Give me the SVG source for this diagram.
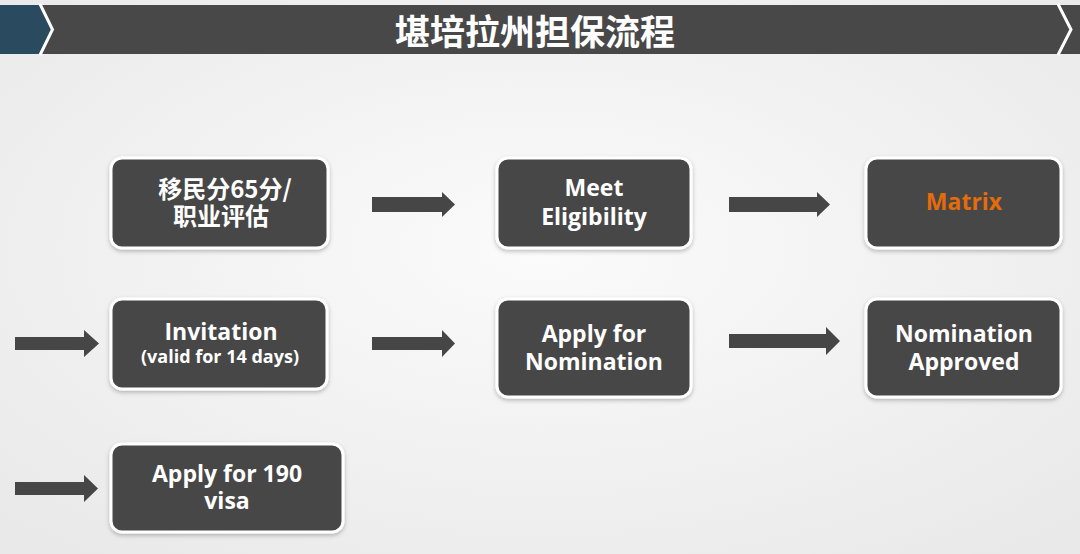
<svg xmlns="http://www.w3.org/2000/svg" width="1080" height="554" viewBox="0 0 1080 554">
<defs>
<radialGradient id="bg" cx="50%" cy="45%" r="70%">
<stop offset="0" stop-color="#fbfbfb"/>
<stop offset="1" stop-color="#e9e9e9"/>
</radialGradient>
<filter id="sh" x="-10%" y="-10%" width="120%" height="130%">
<feDropShadow dx="0" dy="2" stdDeviation="2" flood-color="#000" flood-opacity="0.25"/>
</filter>
</defs>
<style>
.box{fill:#464646;stroke:#ffffff;stroke-width:3;filter:url(#sh)}
.t{font-family:"Open Sans","Noto Sans CJK SC",sans-serif;font-weight:bold;fill:#ffffff;text-anchor:middle}
.cn{font-family:"Noto Sans CJK SC","Open Sans",sans-serif;font-weight:bold;fill:#ffffff;text-anchor:middle}
.arr{fill:#464646}
</style>
<rect width="1080" height="554" fill="url(#bg)"/>
<g id="header">
<rect x="0" y="5" width="1080" height="49" fill="#484848"/>
<polygon points="0,5 40,5 52,29.5 40,54 0,54" fill="#2a4b5f"/>
<polyline points="40,4 52.5,29.5 40,55" fill="none" stroke="#ffffff" stroke-width="3"/>
<polyline points="1058,4 1071,29.5 1058,55" fill="none" stroke="#ffffff" stroke-width="3"/>
<text x="535" y="45" class="cn" font-size="35">堪培拉州担保流程</text>
</g>
<g id="connectors">
<polygon class="arr" points="372,197 442,197 442,192 455,204.5 442,217 442,212 372,212"/>
<polygon class="arr" points="729,197 817,197 817,192 830,204.5 817,217 817,212 729,212"/>
<polygon class="arr" points="15,337 84,337 84,330 99,343.5 84,357 84,350 15,350"/>
<polygon class="arr" points="372,337 442,337 442,330 455,343.5 442,357 442,350 372,350"/>
<polygon class="arr" points="729,334 826,334 826,327 840,341 826,355 826,348 729,348"/>
<polygon class="arr" points="15,482 84,482 84,475 98,488.5 84,502 84,495 15,495"/>
</g>
<g id="node-points">
<rect class="box" x="111" y="158" width="217" height="90" rx="11"/>
<text class="cn" x="225" y="198" font-size="24">移民分65分/</text>
<text class="cn" x="221" y="225" font-size="24">职业评估</text>
</g>
<g id="node-eligibility">
<rect class="box" x="497" y="158" width="194" height="90" rx="11"/>
<text class="t" x="594" y="196" font-size="23">Meet</text>
<text class="t" x="594" y="225" font-size="23">Eligibility</text>
</g>
<g id="node-matrix">
<rect class="box" x="866" y="158" width="195" height="90" rx="11"/>
<text class="t" x="964" y="210" font-size="23" style="fill:#e46c0a">Matrix</text>
</g>
<g id="node-invitation">
<rect class="box" x="111" y="299" width="216" height="90" rx="11"/>
<text class="t" x="221" y="340" font-size="23">Invitation</text>
<text class="t" x="220" y="363" font-size="18">(valid for 14 days)</text>
</g>
<g id="node-apply-nomination">
<rect class="box" x="497" y="299" width="194" height="98" rx="11"/>
<text class="t" x="594" y="342" font-size="23">Apply for</text>
<text class="t" x="594" y="370" font-size="23">Nomination</text>
</g>
<g id="node-approved">
<rect class="box" x="866" y="299" width="195" height="98" rx="11"/>
<text class="t" x="964" y="342" font-size="23">Nomination</text>
<text class="t" x="964" y="370" font-size="23">Approved</text>
</g>
<g id="node-visa">
<rect class="box" x="111" y="444" width="232" height="88" rx="11"/>
<text class="t" x="227" y="482" font-size="23">Apply for 190</text>
<text class="t" x="227" y="509" font-size="23">visa</text>
</g>
</svg>
